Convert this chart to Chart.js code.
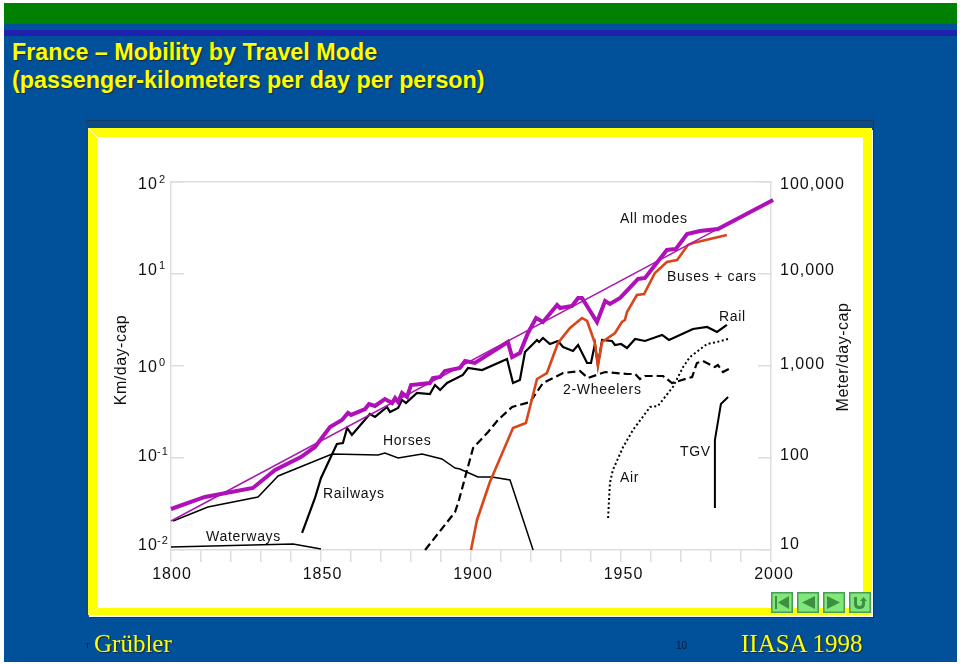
<!DOCTYPE html>
<html>
<head>
<meta charset="utf-8">
<title>France - Mobility by Travel Mode</title>
<script src="https://cdn.jsdelivr.net/npm/chart.js@4/dist/chart.umd.min.js"></script>
<style>
  html, body { margin: 0; padding: 0; background: #fff; width: 960px; height: 664px; overflow: hidden; }
  div, svg, canvas { position: absolute; }
  #slide { left: 4px; top: 3px; width: 953px; height: 659px; background: #00509a; }
  #greenbar { left: 0; top: 0; width: 953px; height: 21px; background: #008000; }
  #bluebar { left: 0; top: 27px; width: 953px; height: 6px; background: #2020b0; }
  .title { left: 12px; font: bold 23.3px "Liberation Sans", Arial, sans-serif; color: #ffff00; text-shadow: 1px 1px 1px #1a2a30; white-space: nowrap; }
  #frame { left: 86px; top: 120px; width: 788px; height: 496px; background: #0a4a86; border-top: 1px solid #123c66; border-right: 1px solid #123c66; box-sizing: border-box; }
  #panel { left: 88px; top: 128px; width: 784px; height: 487px; box-sizing: border-box; background: #fff; border: 9px solid #ffff00; border-bottom-width: 7px; box-shadow: 1px 2px 0 #f4f4f4, 2px 3px 0 #123c66; }
  .serif { top: 630px; font: 25px "Liberation Serif", "Times New Roman", serif; color: #ffff00; text-shadow: 1px 1px 1px #1a2a30; white-space: nowrap; }
  .small { font: 10px "Liberation Sans", Arial, sans-serif; color: #0a1a30; white-space: nowrap; }
  .btn { top: 592px; width: 22px; height: 21px; }
</style>
</head>
<body>
<div id="slide">
  <div id="greenbar"></div>
  <div id="bluebar"></div>
</div>
<div class="title" style="top:39px">France – Mobility by Travel Mode</div>
<div class="title" style="top:67px">(passenger-kilometers per day per person)</div>
<div id="frame"></div>
<div id="panel"></div>
<svg style="left:0;top:0" width="960" height="664"><path d="M88 128l9 9M872 128l-9 9M88 615l9-7M872 615l-9-7" stroke="#fffbb0" stroke-width="1" fill="none"/></svg>
<canvas id="myChart" width="960" height="664" style="left:0;top:0"></canvas>
<svg class="btn" style="left:771px" viewBox="0 0 22 21"><rect x="0.5" y="0.5" width="21" height="20" fill="#80e878" stroke="#4a9a58" stroke-width="2"/><path d="M4 4h2v13H4zM18 4v13L7 10.5z" fill="#3c9040"/></svg>
<svg class="btn" style="left:797px" viewBox="0 0 22 21"><rect x="0.5" y="0.5" width="21" height="20" fill="#80e878" stroke="#4a9a58" stroke-width="2"/><path d="M18 4v13L5 10.5z" fill="#3c9040"/></svg>
<svg class="btn" style="left:823px" viewBox="0 0 22 21"><rect x="0.5" y="0.5" width="21" height="20" fill="#80e878" stroke="#4a9a58" stroke-width="2"/><path d="M4 4v13l13-6.5z" fill="#3c9040"/></svg>
<svg class="btn" style="left:849px" viewBox="0 0 22 21"><rect x="0.5" y="0.5" width="21" height="20" fill="#80e878" stroke="#4a9a58" stroke-width="2"/><path d="M5 5h3v7q0 2 2.5 2t2.5-2V9h-2l3.500-4 3.500 4h-2v3q0 5-5.500 5T5 12z" fill="#3c9040"/></svg>
<div class="small" style="left:85px;top:641px;font-size:8px">T</div>
<div class="serif" style="left:94px">Grübler</div>
<div class="small" style="left:676px;top:640px">10</div>
<div class="serif" style="left:741px">IIASA 1998</div>

<script>
"use strict";
/* ---------------------- DATA --------------------*/
var tickYears = [1800, 1810, 1820, 1830, 1840, 1850, 1860, 1870, 1880, 1890, 1900, 1910, 1920, 1930, 1940, 1950, 1960, 1970, 1980, 1990, 2000];
var yearLabels = [1800, 1850, 1900, 1950, 2000];
var kmTicks = [0.01, 0.1, 1, 10, 100];
var kmExponents = ["-2", "-1", "0", "1", "2"];
var meterTicks = [10, 100, 1000, 10000, 100000];
var meterLabels = ["10", "100", "1,000", "10,000", "100,000"];

var allYears = [1800, 1811.3, 1827.3, 1834.7, 1843.3, 1848, 1853, 1857, 1859, 1860, 1864.7, 1866, 1868, 1871.3, 1873.7, 1874.7, 1875.7, 1877, 1878.7, 1880, 1886.3, 1887.3, 1889.7, 1891.3, 1896.3, 1898, 1901.3, 1912.3, 1913.7, 1916.3, 1919, 1921.7, 1924, 1928.7, 1929.7, 1933.7, 1935.7, 1937, 1942, 1944.7, 1946.3, 1949.7, 1955.7, 1958, 1965.3, 1968.3, 1972, 1976.3, 1982.3, 2000.7];
var allValues = [0.0279, 0.0377, 0.0472, 0.0741, 0.1025, 0.1317, 0.2174, 0.2591, 0.3088, 0.2937, 0.3409, 0.3864, 0.3675, 0.4379, 0.3962, 0.449, 0.4062, 0.5089, 0.4604, 0.6215, 0.6535, 0.7406, 0.7594, 0.8824, 0.9512, 1.133, 1.078, 1.824, 1.253, 1.385, 2.286, 3.325, 3.012, 4.604, 4.271, 4.49, 5.486, 5.486, 3.012, 5.089, 4.721, 5.486, 8.824, 9.048, 18.24, 18.71, 27.25, 29.37, 30.88, 63.73];

var trendYears = [1800, 1982.3];
var trendValues = [0.02068, 30.88];

var horseYears = [1800.7, 1812.3, 1829, 1835.7, 1853.7, 1869, 1871.3, 1875.7, 1883.7, 1890.3, 1894.7, 1896.3, 1902.3, 1907, 1913, 1920.7];
var horseValues = [0.0207, 0.02937, 0.03768, 0.06373, 0.1105, 0.1078, 0.1133, 0.1, 0.1105, 0.09753, 0.07786, 0.07594, 0.06215, 0.06215, 0.05766, 0.01];

var railYears = [1843.7, 1848, 1850, 1855.3, 1857.3, 1858.7, 1860.3, 1866.3, 1868, 1872, 1873, 1875.7, 1877, 1878.3, 1882, 1886.3, 1888, 1889.7, 1892, 1897.3, 1899, 1903.7, 1912, 1914, 1916.3, 1918, 1922, 1922.7, 1924, 1926.3, 1929, 1930.7, 1934, 1935.7, 1938.7, 1940, 1941.3, 1942.3, 1943.7, 1947, 1948, 1950, 1952, 1954.7, 1958, 1963.7, 1966, 1974, 1978.7, 1982, 1985.3];
var railValues = [0.01531, 0.03675, 0.06062, 0.142, 0.1456, 0.2121, 0.1779, 0.3012, 0.2794, 0.3584, 0.3162, 0.3496, 0.4271, 0.3962, 0.5089, 0.4963, 0.6215, 0.5486, 0.6535, 0.7983, 0.9512, 0.9048, 1.191, 0.6535, 0.7044, 1.42, 1.918, 1.824, 2.017, 1.735, 1.871, 1.61, 1.456, 1.692, 1.078, 1.078, 1.735, 1.025, 1.918, 1.871, 1.692, 1.735, 1.57, 1.967, 1.871, 2.174, 1.918, 2.527, 2.657, 2.344, 2.794];

var carYears = [1900, 1902, 1906.3, 1914, 1918.3, 1922, 1925.3, 1929, 1933, 1937, 1938.7, 1941.3, 1942.3, 1943.7, 1948, 1950.3, 1951.3, 1952, 1955.3, 1957.7, 1961.3, 1965.3, 1968.7, 1972.3, 1974, 1985.3];
var carValues = [0.01, 0.02121, 0.05486, 0.2121, 0.2404, 0.7223, 0.8393, 1.779, 2.591, 3.325, 3.088, 1.779, 1, 1.824, 2.286, 3.012, 3.162, 3.864, 5.912, 6.062, 10.25, 13.5, 14.2, 20.68, 21.74, 26.57];

var wheelerYears = [1884.7, 1894.7, 1896, 1898.7, 1900.7, 1905.7, 1909, 1913.7, 1919.7, 1924, 1930.7, 1936.3, 1939, 1944.7, 1952, 1954.7, 1956.3, 1958, 1964, 1967, 1973.7, 1975.3, 1977.3, 1981.3, 1982.3, 1984, 1986];
var wheelerValues = [0.01, 0.02591, 0.03496, 0.07406, 0.1284, 0.1918, 0.2591, 0.3584, 0.4062, 0.6535, 0.8393, 0.8824, 0.7406, 0.8606, 0.8186, 0.8186, 0.7223, 0.7786, 0.7786, 0.6535, 0.7594, 1.078, 1.133, 0.9753, 1.025, 0.8606, 0.9277];

var airYears = [1945.7, 1946.3, 1947.3, 1950.7, 1954, 1959.7, 1962.3, 1967.3, 1970.7, 1973, 1978.7, 1982, 1985.7];
var airValues = [0.0223, 0.0535, 0.07406, 0.1317, 0.2017, 0.3584, 0.3675, 0.5912, 0.9753, 1.253, 1.735, 1.824, 1.967];

var tgvYears = [1981.3, 1981.3, 1983.3, 1985.7];
var tgvValues = [0.02865, 0.157, 0.3864, 0.4604];

var waterYears = [1800, 1840.7, 1850];
var waterValues = [0.01078, 0.01162, 0.01025];

/* ---------------------- HELPERS --------------------*/
var FONT = '"Liberation Sans", Arial, sans-serif';
var GREY = "#dddddd";

function points(xs, ys) {
  return xs.map(function(x, i) {
    return { x: x, y: ys[i] };
  });
}

function series(label, xs, ys, color, width, dash) {
  return {
    label: label,
    data: points(xs, ys),
    borderColor: color,
    borderWidth: width,
    borderDash: dash || [],
    showLine: true,
    pointRadius: 0,
    tension: 0,
    borderJoinStyle: "miter",
    clip: false,
    yAxisID: "y"
  };
}

function noWidth(scale) {
  scale.width = 0;
}

function text(ctx, str, x, y, size, align) {
  ctx.font = size + "px " + FONT;
  ctx.textAlign = align || "left";
  ctx.fillText(str, x, y);
}

/* Axis labels and the line names sit outside the library's tick layout */
var labelsPlugin = {
  id: "labels",
  afterDatasetsDraw: function(chart) {
    var ctx = chart.ctx;
    var x = chart.scales.x, y = chart.scales.y, y2 = chart.scales.y2;
    var rowShift = [-4, -1, 2, -3, 3];
    var rowShiftRight = [-5, -2, -1, -3, 3];

    ctx.save();
    ctx.fillStyle = "#111111";
    ctx.textBaseline = "middle";
    ctx.letterSpacing = "1px";

    kmTicks.forEach(function(v, i) {
      var py = y.getPixelForValue(v) + rowShift[i];
      text(ctx, "10", 138, py, 16);
      text(ctx, kmExponents[i], kmExponents[i].length > 1 ? 157 : 159, py - 5, 11);
    });
    meterTicks.forEach(function(v, i) {
      text(ctx, meterLabels[i], 780, y2.getPixelForValue(v) + rowShiftRight[i], 16);
    });
    yearLabels.forEach(function(v, i) {
      text(ctx, String(v), x.getPixelForValue(v) + i * 0.5 + 1, 575, 16, "center");
    });

    ctx.letterSpacing = "0.7px";
    text(ctx, "All modes", 620, 219, 14);
    text(ctx, "Buses + cars", 667, 277, 14);
    text(ctx, "Rail", 719, 317, 14);
    text(ctx, "2-Wheelers", 563, 390, 14);
    text(ctx, "Horses", 383, 441, 14);
    text(ctx, "TGV", 680, 452, 14);
    text(ctx, "Air", 620, 478, 14);
    text(ctx, "Railways", 323, 494, 14);
    text(ctx, "Waterways", 206, 537, 14);

    ctx.letterSpacing = "0.5px";
    ctx.translate(122, 360);
    ctx.rotate(-Math.PI / 2);
    text(ctx, "Km/day-cap", 0, 0, 16, "center");
    ctx.rotate(Math.PI / 2);
    ctx.translate(722, -3);
    ctx.rotate(-Math.PI / 2);
    text(ctx, "Meter/day-cap", 0, 0, 16, "center");
    ctx.restore();
  }
};

/* ---------------------- CHART --------------------*/
var ctx = document.getElementById("myChart").getContext("2d");
var chart = new Chart(ctx, {
  type: "scatter",
  plugins: [labelsPlugin],
  data: {
    datasets: [
      series("All modes", allYears, allValues, "#b010b8", 4),
      series("Trend", trendYears, trendValues, "#a818b0", 1.5),
      series("Buses + cars", carYears, carValues, "#d8461a", 2.6),
      series("Rail", railYears, railValues, "#000000", 2.2),
      series("Horses", horseYears, horseValues, "#000000", 1.5),
      series("2-Wheelers", wheelerYears, wheelerValues, "#000000", 2.2, [8, 4]),
      series("Air", airYears, airValues, "#000000", 2, [2, 2.5]),
      series("TGV", tgvYears, tgvValues, "#000000", 2),
      series("Waterways", waterYears, waterValues, "#000000", 1.5)
    ]
  },
  options: {
    responsive: false,
    animation: false,
    layout: { padding: { left: 171, right: 189, top: 182, bottom: 114 } },
    plugins: { legend: { display: false }, title: { display: false }, tooltip: { enabled: false } },
    scales: {
      x: {
        type: "linear",
        min: 1800,
        max: 2000,
        afterBuildTicks: function(scale) {
          scale.ticks = tickYears.map(function(v) { return { value: v }; });
        },
        afterFit: function(scale) { scale.height = 0; },
        ticks: { display: false },
        border: { color: GREY, width: 1.5 },
        grid: { drawOnChartArea: false, color: GREY, lineWidth: 1.5, tickLength: 12 }
      },
      y: {
        type: "logarithmic",
        position: "left",
        min: 0.01,
        max: 100,
        afterBuildTicks: function(scale) {
          scale.ticks = kmTicks.map(function(v) { return { value: v }; });
        },
        afterFit: noWidth,
        ticks: { display: false },
        border: { color: GREY, width: 1.5 },
        grid: {
          lineWidth: 1.5,
          tickLength: -13,
          tickColor: GREY,
          color: function(c) {
            return c.tick && c.tick.value === 100 ? GREY : "rgba(0,0,0,0)";
          }
        }
      },
      y2: {
        type: "logarithmic",
        position: "right",
        min: 10,
        max: 100000,
        afterBuildTicks: function(scale) {
          scale.ticks = meterTicks.map(function(v) { return { value: v }; });
        },
        afterFit: noWidth,
        ticks: { display: false },
        border: { color: GREY, width: 1.5 },
        grid: { drawOnChartArea: false, color: GREY, lineWidth: 1.5, tickLength: -13 }
      }
    }
  }
});
</script>
</body>
</html>
